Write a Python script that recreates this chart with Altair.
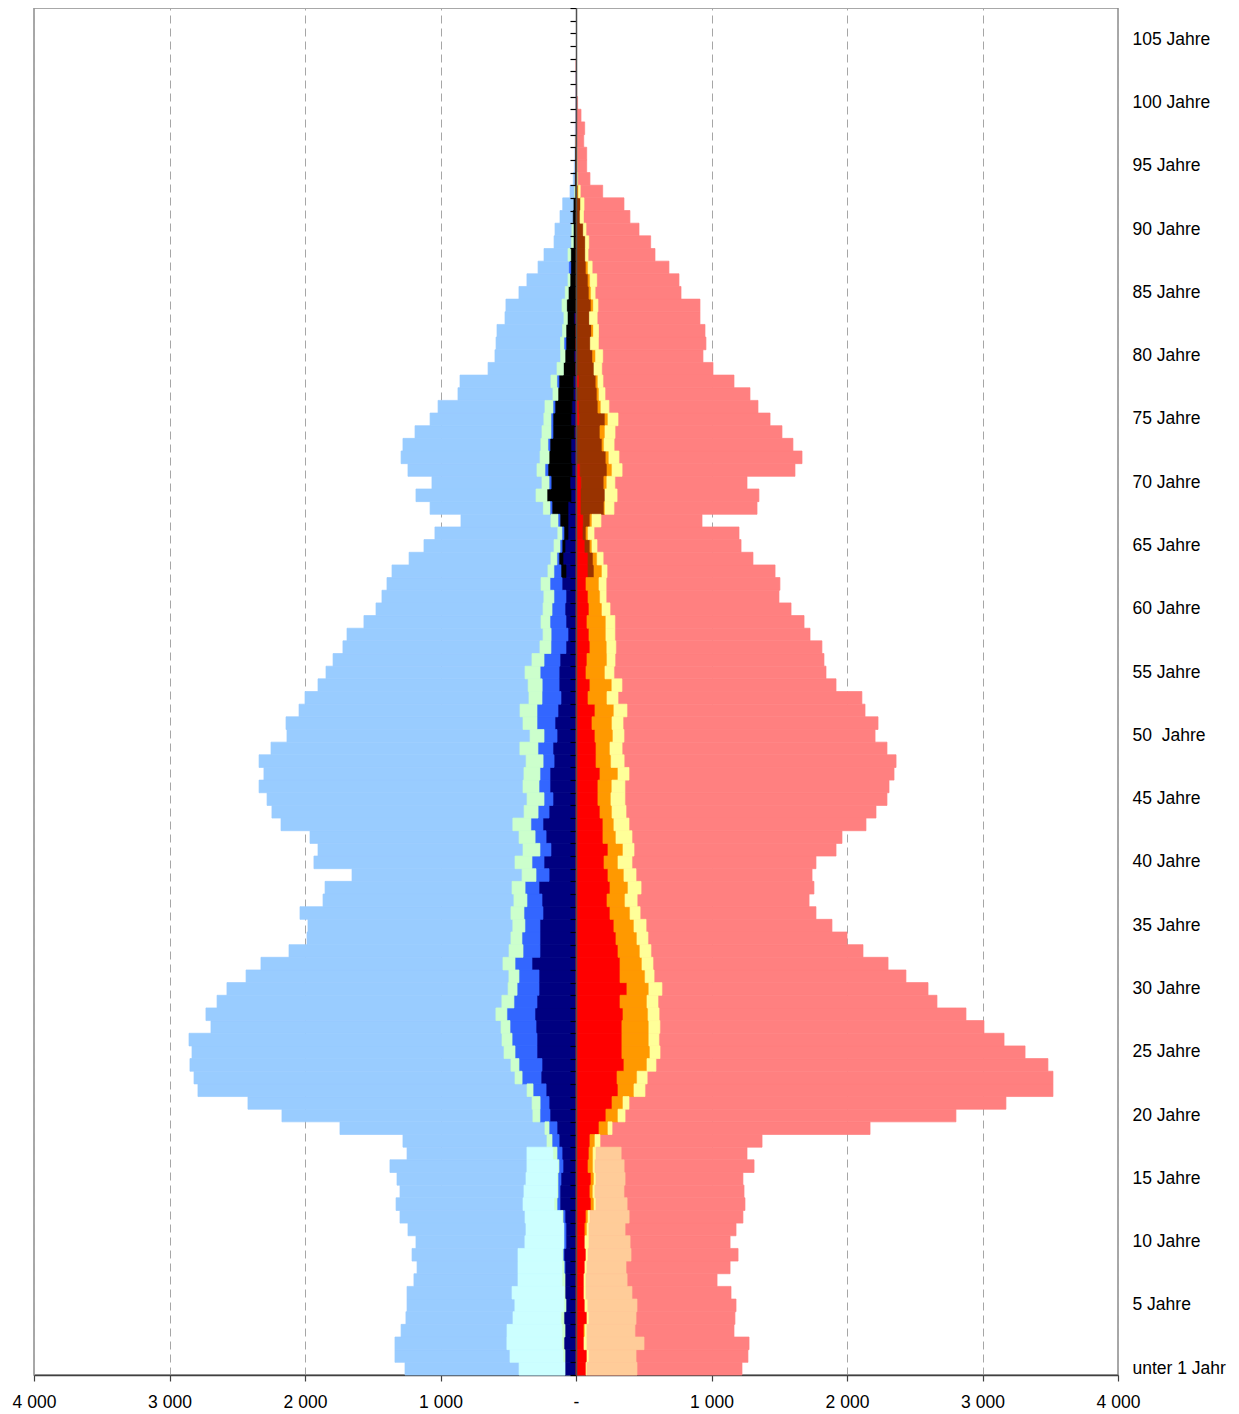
import altair as alt
import pandas as pd

ages = list(range(108))

# Männer (links) – Gesamt und innere Gruppen
m_total = [1262, 1336, 1336, 1291, 1255, 1247, 1247, 1196, 1173, 1210,
           1181, 1240, 1299, 1328, 1299, 1321, 1373, 1247, 1277, 1742,
           2170, 2421, 2790, 2819, 2849, 2834, 2856, 2694, 2731, 2649,
           2576, 2435, 2325, 2118, 1985, 1978, 2037, 1867, 1852, 1653,
           1934, 1904, 1963, 2177, 2244, 2280, 2339, 2303, 2339, 2251,
           2133, 2140, 2044, 2000, 1904, 1845, 1793, 1720, 1690, 1565,
           1476, 1432, 1395, 1358, 1232, 1122, 1041, 849, 1077, 1181,
           1063, 1240, 1291, 1277, 1188, 1077, 1018, 871, 856, 649,
           598, 590, 583, 524, 517, 421, 362, 280, 236, 162,
           155, 118, 98, 44, 20, 12, 8, 6, 5, 3,
           2, 1, 1, 0, 0, 0, 0, 0]
m_navy = [81, 81, 89, 81, 89, 74, 81, 81, 81, 89,
          74, 74, 81, 118, 118, 111, 96, 103, 125, 140,
          192, 199, 221, 258, 251, 288, 288, 295, 303, 288,
          273, 273, 325, 266, 266, 266, 244, 251, 273, 199,
          236, 185, 221, 244, 199, 170, 192, 192, 162, 170,
          140, 155, 133, 111, 125, 125, 118, 74, 59, 74,
          81, 74, 103, 74, 96, 81, 59, 59, 59, 37,
          44, 30, 37, 37, 15, 37, 30, 20, 20, 7,
          15, 0, 0, 15, 0, 0, 0, 0, 0, 0,
          0, 0, 0, 0, 0, 0, 0, 0, 0, 0,
          0, 0, 0, 0, 0, 0, 0, 0]
m_black = [0] * 63 + [37, 30, 22, 30, 59, 118, 177,
                      140, 177, 162, 155, 155, 133, 125, 113, 106, 86,
                      66, 74, 74, 49, 69, 57, 44, 39, 39, 20,
                      20, 20, 15, 7, 5, 3, 2, 0, 0, 0,
                      0, 0, 0, 0, 0, 0, 0, 0]
m_blue = [0, 0, 0, 0, 0, 0, 0, 0, 7, 7,
          15, 15, 15, 22, 15, 22, 30, 37, 52, 59,
          74, 66, 96, 140, 170, 162, 184, 192, 207, 170,
          162, 148, 125, 125, 133, 111, 140, 111, 103, 96,
          89, 81, 81, 89, 81, 66, 81, 74, 81, 111,
          96, 133, 155, 140, 125, 140, 118, 111, 125, 118,
          96, 89, 89, 52, 15, 15, 15, 15, 15, 0,
          15, 22, 0, 15, 15, 15, 15, 0, 15, 0,
          0, 15, 0, 0, 0, 0, 0, 10, 0, 0,
          0, 0, 0, 0, 0, 0, 0, 0, 0, 0,
          0, 0, 0, 0, 0, 0, 0, 0]
m_green = [0, 15, 15, 22, 22, 15, 7, 22, 15, 7,
           0, 0, 7, 22, 7, 7, 7, 30, 37, 30,
           52, 59, 44, 52, 59, 81, 74, 66, 81, 89,
           66, 74, 89, 103, 81, 89, 96, 96, 96, 103,
           125, 125, 118, 133, 103, 125, 118, 118, 125, 133,
           103, 103, 125, 96, 103, 111, 89, 81, 59, 66,
           66, 74, 66, 44, 44, 44, 30, 52, 49, 81,
           52, 59, 66, 52, 66, 52, 59, 37, 44, 47,
           32, 25, 25, 25, 34, 22, 15, 0, 20, 12,
           10, 0, 0, 3, 0, 0, 0, 0, 0, 0,
           0, 0, 0, 0, 0, 0, 0, 0]
m_cyan = [339, 391, 406, 406, 354, 362, 384, 325, 325, 325,
          288, 280, 273, 229, 244, 229, 229, 192] + [0] * 90

# Frauen (rechts)
f_total = [1225, 1269, 1277, 1166, 1173, 1181, 1144, 1041, 1137, 1196,
           1137, 1181, 1232, 1247, 1240, 1232, 1314, 1262, 1373, 2170,
           2804, 3173, 3520, 3520, 3483, 3314, 3159, 3011, 2878, 2664,
           2598, 2435, 2303, 2118, 2000, 1889, 1771, 1720, 1756, 1742,
           1771, 1919, 1963, 2140, 2214, 2295, 2310, 2347, 2362, 2295,
           2207, 2229, 2133, 2110, 1919, 1845, 1830, 1815, 1727, 1683,
           1587, 1498, 1505, 1469, 1306, 1218, 1203, 930, 1336, 1350,
           1262, 1616, 1668, 1601, 1520, 1432, 1343, 1284, 1166, 1011,
           937, 959, 952, 915, 915, 775, 760, 686, 583, 551,
           465, 398, 354, 197, 103, 79, 79, 57, 64, 37,
           12, 5, 3, 2, 0, 0, 0, 0]
f_red = [74, 81, 59, 59, 81, 66, 59, 59, 66, 74,
         66, 66, 74, 111, 103, 111, 89, 96, 103, 170,
         221, 266, 310, 303, 354, 339, 339, 339, 347, 325,
         376, 325, 325, 310, 295, 280, 251, 229, 251, 236,
         207, 236, 199, 199, 177, 162, 162, 177, 148, 148,
         140, 118, 140, 89, 103, 74, 81, 103, 96, 81,
         96, 89, 74, 89, 89, 66, 52, 54, 37, 37,
         39, 30, 5, 5, 5, 25, 22, 5, 22, 5,
         5, 3, 3, 3, 0, 0, 0, 0, 0, 0,
         0, 0, 0, 0, 0, 0, 0, 0, 0, 0,
         0, 0, 0, 0, 0, 0, 0, 0]
f_brown = [0] * 63 + [44, 37, 37, 22, 49, 170, 177,
                      167, 199, 216, 187, 172, 189, 140, 150, 125, 128,
                      118, 103, 111, 96, 111, 96, 89, 74, 69, 69,
                      54, 30, 34, 12, 5, 3, 3, 2, 0, 0,
                      0, 0, 0, 0, 0, 0, 0, 0]
f_orange = [0, 0, 0, 7, 0, 0, 0, 0, 0, 0,
            0, 15, 15, 22, 22, 22, 37, 30, 37, 66,
            89, 81, 118, 148, 170, 207, 199, 199, 185, 199,
            162, 185, 162, 162, 155, 148, 148, 133, 133, 118,
            103, 111, 96, 81, 89, 96, 103, 133, 111, 103,
            133, 148, 140, 140, 162, 140, 148, 125, 125, 140,
            96, 89, 96, 59, 30, 15, 15, 15, 7, 0,
            22, 37, 22, 15, 37, 22, 22, 15, 15, 0,
            22, 0, 15, 0, 17, 15, 15, 15, 0, 0,
            0, 0, 0, 7, 0, 0, 0, 0, 0, 0,
            0, 0, 0, 0, 0, 0, 0, 0]
f_yellow = [7, 15, 22, 15, 15, 22, 15, 15, 15, 15,
            30, 15, 15, 15, 15, 15, 15, 22, 37, 30,
            52, 44, 81, 74, 66, 74, 74, 81, 81, 81,
            96, 66, 81, 81, 81, 89, 74, 89, 96, 89,
            103, 81, 118, 111, 103, 103, 96, 81, 96, 89,
            81, 81, 96, 81, 74, 66, 59, 66, 66, 66,
            59, 44, 52, 37, 44, 37, 44, 66, 66, 89,
            59, 74, 74, 74, 74, 74, 59, 44, 37, 57,
            52, 59, 37, 57, 34, 30, 49, 30, 20, 25,
            20, 25, 25, 12, 7, 5, 4, 3, 0, 0,
            0, 0, 0, 0, 0, 0, 0, 0]
f_peach = [369, 347, 421, 354, 347, 362, 339, 303, 288, 317,
           303, 266, 288, 229, 214, 214, 214, 185] + [0] * 90

series_names = ["M_total", "F_total",
                "M_navy", "M_black", "M_blue", "M_green", "M_cyan",
                "F_red", "F_brown", "F_orange", "F_yellow", "F_peach"]
series_colors = ["#99CCFF", "#FF8080",
                 "#000080", "#000000", "#3366FF", "#CCFFCC", "#CCFFFF",
                 "#FF0000", "#993300", "#FF9900", "#FFFF99", "#FFCC99"]

tot_rows = []
for i, a in enumerate(ages):
    tot_rows.append({"age": a, "series": "M_total", "value": -m_total[i]})
    tot_rows.append({"age": a, "series": "F_total", "value": f_total[i]})
df_tot = pd.DataFrame(tot_rows)

inner = [("M_navy", m_navy, -1, 1), ("M_black", m_black, -1, 2),
         ("M_blue", m_blue, -1, 3), ("M_green", m_green, -1, 4),
         ("M_cyan", m_cyan, -1, 5),
         ("F_red", f_red, 1, 1), ("F_brown", f_brown, 1, 2),
         ("F_orange", f_orange, 1, 3), ("F_yellow", f_yellow, 1, 4),
         ("F_peach", f_peach, 1, 5)]
in_rows = []
for name, vals, sign, ordv in inner:
    for i, a in enumerate(ages):
        in_rows.append({"age": a, "series": name, "value": sign * vals[i], "ord": ordv})
df_in = pd.DataFrame(in_rows)

FONT = "Liberation Sans"

xscale = alt.Scale(domain=[-4000, 4000], nice=False, zero=False)
yscale = alt.Scale(domain=ages[::-1], paddingInner=0, paddingOuter=0)
cscale = alt.Scale(domain=series_names, range=series_colors)

xaxis = alt.Axis(
    values=list(range(-4000, 4001, 1000)),
    labelExpr="datum.value == 0 ? '-' : replace(format(abs(datum.value), ','), ',', ' ')",
    grid=True, gridDash=[8, 5], gridColor="#A6A6A6", gridWidth=1,
    domainColor="#404040", domainWidth=1.5,
    tickColor="#404040", tickSize=6, tickWidth=1.2,
    labelFontSize=17.5, labelFont=FONT, labelColor="#000000",
    labelPadding=12, labelFlush=False, labelOverlap=False, title=None,
)

label_expr = ("datum.value == 0 ? 'unter 1 Jahr' : "
              "(datum.value == 50 ? '50\u00a0 Jahre' : datum.label + ' Jahre')")
right_axis = alt.Axis(
    orient="right", values=list(range(0, 106, 5)), labelExpr=label_expr,
    ticks=False, domain=False, labelPadding=14, labelAlign="left",
    labelFontSize=17.5, labelFont=FONT, labelColor="#000000",
    title=None, grid=False,
)
center_axis = alt.Axis(
    orient="left", offset=-542, values=ages, tickBand="extent",
    labels=False, domainColor="#505050", domainWidth=1.5,
    tickColor="#000000", tickWidth=1.2, tickSize=6,
    grid=False, title=None, zindex=1,
)

totals = alt.Chart(df_tot).mark_bar(strokeWidth=0.7).encode(
    y=alt.Y("age:O", scale=yscale, axis=right_axis),
    x=alt.X("value:Q", scale=xscale, axis=xaxis, stack=None),
    color=alt.Color("series:N", scale=cscale, legend=None),
    stroke=alt.Stroke("series:N", scale=cscale, legend=None),
).transform_filter("datum.value != 0")

stacks = alt.Chart(df_in).mark_bar(strokeWidth=0.7).encode(
    y=alt.Y("age:O", scale=yscale, axis=center_axis),
    x=alt.X("value:Q", scale=xscale, axis=xaxis, stack="zero"),
    color=alt.Color("series:N", scale=cscale, legend=None),
    stroke=alt.Stroke("series:N", scale=cscale, legend=None),
    order=alt.Order("ord:Q", sort="ascending"),
).transform_filter("datum.value != 0")

chart = alt.layer(totals, stacks).resolve_axis(y="independent").properties(
    width=1084, height=1367,
    autosize=alt.AutoSizeParams(type="none"),
    padding={"left": 26, "top": 0, "right": 113, "bottom": 39},
).configure_view(stroke="#8C8C8C", strokeWidth=1.5)

chart.save("out.html", embed_options={"renderer": "svg", "actions": False})
